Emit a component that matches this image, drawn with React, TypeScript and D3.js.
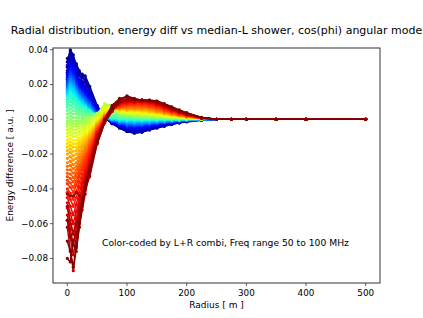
import React from 'react';
import * as d3 from 'd3';

// radius of each sample point [m]
const radii = [0, 5, 10, 15, 20, 25, 30, 37.5, 50, 62.5, 75, 87.5, 100, 112.5, 125, 137.5, 150, 162.5, 175, 187.5, 200, 225, 250, 275, 300, 350, 400, 500];

// colour level (0 = dark blue ... 1 = dark red) of every curve, drawn in this order
const colorLevels = [
  0, 0.015, 0.03, 0.045, 0.06, 0.075, 0.09, 0.11, 0.13, 0.15, 0.17, 0.19, 0.21, 0.23, 0.25, 0.27,
  0.29, 0.31, 0.33, 0.35, 0.37, 0.39, 0.41, 0.43, 0.45, 0.47, 0.49, 0.51, 0.53, 0.55, 0.57, 0.59,
  0.61, 0.63, 0.65, 0.67, 0.69, 0.71, 0.73, 0.75, 0.77, 0.785, 0.8, 0.815, 0.83, 0.845, 0.86, 0.875,
  0.89, 0.9, 0.91, 0.92, 0.93, 0.94, 0.95, 0.96, 0.97, 0.98, 0.99, 1,
];

// energy difference of each curve, in units of 1e-3 a.u.
const curveValues: number[][] = [
  [30, 40, 37, 31, 27, 26, 25, 19, 8, 1.5, -2.5, -5, -7, -8, -7.5, -6, -5, -4, -3, -2, -1.5, -0.5, 0, 0, 0, 0, 0, 0],
  [35, 38, 35, 32, 28, 25, 23, 18, 7.5, 1, -2, -5, -7, -7.8, -7.2, -6.2, -5, -3.8, -2.8, -2, -1.2, -0.4, 0, 0, 0, 0, 0, 0],
  [33, 39, 34, 29, 25, 24, 22, 17, 7, 1, -2.5, -4.5, -6.5, -7.5, -7, -6, -4.5, -3.5, -2.5, -2, -1, -0.5, 0, 0, 0, 0, 0, 0],
  [31, 37, 33, 28, 26, 22, 21, 16, 6.5, 0.8, -2.2, -4.2, -6, -7, -6.5, -5.5, -4.2, -3.2, -2.6, -1.8, -1, -0.4, 0, 0, 0, 0, 0, 0],
  [28, 36, 32, 27, 23, 21, 19, 15, 6, 0.5, -2, -4, -5.5, -6.5, -6, -5, -4, -3, -2.5, -1.5, -1, -0.3, 0, 0, 0, 0, 0, 0],
  [27, 34, 31, 26, 22, 20, 18, 14, 5.5, 0.5, -1.8, -3.8, -5.2, -6, -5.5, -4.8, -3.8, -2.8, -2.2, -1.5, -1, -0.3, 0, 0, 0, 0, 0, 0],
  [26, 33, 30, 25, 21, 19, 17, 13, 5, 0.5, -1.5, -3.5, -5, -5.5, -5, -4.5, -3.5, -2.5, -2, -1.5, -1, -0.3, 0, 0, 0, 0, 0, 0],
  [25, 31, 29, 24, 20, 18, 16, 12, 4.5, 0.5, -1.2, -3.2, -4.5, -5, -4.6, -4.1, -3.2, -2.4, -1.9, -1.3, -0.9, -0.2, 0, 0, 0, 0, 0, 0],
  [24, 30, 27, 23, 19, 17, 15, 11, 4, 0.5, -1, -3, -4, -4.5, -4.2, -3.8, -3, -2.2, -1.8, -1.2, -0.8, -0.2, 0, 0, 0, 0, 0, 0],
  [23, 29, 26, 22, 18, 16, 14, 10.5, 3.8, 0.5, -1, -2.8, -3.8, -4.2, -3.8, -3.4, -2.8, -2.1, -1.6, -1.1, -0.7, -0.2, 0, 0, 0, 0, 0, 0],
  [22, 27, 25, 21, 17, 15, 13, 10, 3.5, 0.5, -1, -2.5, -3.5, -3.8, -3.5, -3, -2.5, -2, -1.5, -1, -0.7, -0.2, 0, 0, 0, 0, 0, 0],
  [21, 26, 24, 20, 16.5, 14.5, 12.5, 9.5, 3.2, 0.6, -0.8, -2.2, -3.2, -3.5, -3.2, -2.8, -2.3, -1.8, -1.4, -1, -0.6, -0.2, 0, 0, 0, 0, 0, 0],
  [20, 25, 23, 19, 16, 14, 12, 9, 3, 0.8, -0.5, -2, -3, -3.2, -3, -2.6, -2.1, -1.7, -1.3, -0.9, -0.6, -0.2, 0, 0, 0, 0, 0, 0],
  [19, 24, 22, 18, 15, 13, 11, 8, 2.8, 0.8, -0.5, -1.8, -2.6, -2.8, -2.7, -2.3, -1.9, -1.5, -1.1, -0.8, -0.5, -0.1, 0, 0, 0, 0, 0, 0],
  [18, 23, 21, 17, 14, 12, 10, 7.5, 2.5, 0.8, -0.5, -1.5, -2.3, -2.5, -2.4, -2.1, -1.7, -1.4, -1, -0.8, -0.5, -0.1, 0, 0, 0, 0, 0, 0],
  [17.5, 22, 20, 16.5, 13.5, 11.5, 9.5, 7, 2.2, 0.8, -0.2, -1.2, -2, -2.2, -2, -1.8, -1.5, -1.2, -0.9, -0.7, -0.4, -0.1, 0, 0, 0, 0, 0, 0],
  [17, 21, 19, 16, 13, 11, 9, 6.5, 2, 0.8, 0, -1, -1.6, -1.8, -1.7, -1.5, -1.2, -1, -0.8, -0.6, -0.4, -0.1, 0, 0, 0, 0, 0, 0],
  [16, 20, 18, 15, 12, 10.5, 8.5, 6, 1.9, 0.9, 0.1, -0.8, -1.3, -1.5, -1.4, -1.2, -1, -0.8, -0.6, -0.5, -0.3, -0.1, 0, 0, 0, 0, 0, 0],
  [15, 19, 17, 14, 11, 10, 8, 5.5, 1.8, 1, 0.2, -0.6, -1, -1.2, -1.1, -1, -0.8, -0.7, -0.5, -0.4, -0.3, -0.1, 0, 0, 0, 0, 0, 0],
  [14, 17.5, 15.5, 13, 10.5, 9, 7.5, 5.2, 1.9, 1.1, 0.4, -0.3, -0.7, -0.8, -0.8, -0.7, -0.6, -0.5, -0.4, -0.3, -0.2, 0, 0, 0, 0, 0, 0, 0],
  [13, 16, 14, 12, 10, 8, 7, 5, 2, 1.2, 0.6, -0.1, -0.4, -0.5, -0.5, -0.4, -0.4, -0.3, -0.3, -0.2, -0.1, 0, 0, 0, 0, 0, 0, 0],
  [11.5, 14.5, 12.5, 10.5, 9, 7.5, 6.5, 4.8, 2.2, 1.5, 0.9, 0.2, -0.1, -0.2, -0.2, -0.2, -0.2, -0.1, -0.1, -0.1, 0, 0, 0, 0, 0, 0, 0, 0],
  [10, 13, 11, 9, 8, 7, 6, 4.5, 2.5, 1.8, 1.2, 0.5, 0.2, 0.1, 0, 0, 0, 0, 0, 0, 0, 0, 0, 0, 0, 0, 0, 0],
  [8.5, 10.5, 9, 7.5, 6.5, 5.8, 5, 4, 2.8, 2.4, 1.6, 0.8, 0.5, 0.3, 0.2, 0.2, 0.1, 0.1, 0.1, 0, 0, 0, 0, 0, 0, 0, 0, 0],
  [7, 8, 7, 6, 5, 4.5, 4, 3.5, 3, 3, 2, 1.2, 0.8, 0.6, 0.5, 0.4, 0.3, 0.3, 0.2, 0.1, 0.1, 0, 0, 0, 0, 0, 0, 0],
  [5, 6, 5, 4.5, 3.8, 3.2, 3, 3, 3.2, 4, 2.8, 1.6, 1.1, 0.9, 0.8, 0.6, 0.5, 0.4, 0.3, 0.2, 0.1, 0, 0, 0, 0, 0, 0, 0],
  [3, 4, 3, 3, 2.5, 2, 2, 2.5, 3.5, 5, 3.5, 2, 1.5, 1.2, 1, 0.9, 0.7, 0.6, 0.5, 0.3, 0.2, 0.1, 0, 0, 0, 0, 0, 0],
  [1, 2, 1, 1, 0.8, 0.8, 1, 1.8, 3.5, 6, 4.5, 2.5, 1.8, 1.6, 1.4, 1.2, 1, 0.8, 0.6, 0.4, 0.3, 0.1, 0, 0, 0, 0, 0, 0],
  [-1, 0, -1, -1, -1, -0.5, 0, 1, 3.5, 7, 5.5, 3, 2.2, 2, 1.8, 1.5, 1.2, 1, 0.8, 0.6, 0.4, 0.1, 0, 0, 0, 0, 0, 0],
  [-2.5, -1.5, -2.5, -2.5, -2.2, -1.8, -1, 0.5, 3.2, 8, 6.8, 3.5, 2.6, 2.4, 2.1, 1.8, 1.5, 1.2, 1, 0.7, 0.5, 0.1, 0, 0, 0, 0, 0, 0],
  [-4, -3, -4, -4, -3.5, -3, -2, 0, 3, 9, 8, 4, 3, 2.8, 2.5, 2.2, 1.8, 1.5, 1.2, 0.9, 0.6, 0.2, 0, 0, 0, 0, 0, 0],
  [-6, -5, -6, -6, -5, -4.5, -3.5, -1.5, 2, 8, 7.5, 4.2, 3.4, 3.1, 2.9, 2.6, 2.1, 1.7, 1.4, 1, 0.7, 0.2, 0, 0, 0, 0, 0, 0],
  [-8, -7, -8, -8, -7, -6, -5, -3, 1, 7, 7, 4.5, 3.8, 3.5, 3.3, 3, 2.5, 2, 1.6, 1.2, 0.8, 0.2, 0, 0, 0, 0, 0, 0],
  [-10, -9, -10, -10, -9, -8, -6.5, -4.5, 0, 6, 7, 4.8, 4.1, 3.9, 3.6, 3.3, 2.7, 2.2, 1.8, 1.3, 0.9, 0.2, 0, 0, 0, 0, 0, 0],
  [-12, -11, -12, -12, -11, -10, -8, -6, -1, 5, 6.5, 5, 4.5, 4.3, 4, 3.6, 3, 2.5, 2, 1.5, 1, 0.3, 0, 0, 0, 0, 0, 0],
  [-14, -13, -14, -14, -12.5, -11.5, -9.5, -7, -1.5, 4.2, 6.2, 5.2, 4.8, 4.6, 4.4, 4, 3.3, 2.7, 2.2, 1.6, 1.1, 0.3, 0, 0, 0, 0, 0, 0],
  [-16, -15, -16, -16, -14, -13, -11, -8, -2, 3.5, 6, 5.5, 5, 5, 4.8, 4.3, 3.7, 3, 2.4, 1.8, 1.2, 0.3, 0, 0, 0, 0, 0, 0],
  [-18, -17, -18.5, -18, -16, -14.5, -12.5, -9, -2.5, 3, 6, 5.8, 5.4, 5.4, 5.1, 4.6, 4, 3.2, 2.6, 1.9, 1.3, 0.3, 0, 0, 0, 0, 0, 0],
  [-20, -19, -21, -20, -18, -16, -14, -10, -3, 2.5, 6, 6, 5.8, 5.8, 5.5, 5, 4.3, 3.5, 2.8, 2.1, 1.4, 0.4, 0, 0, 0, 0, 0, 0],
  [-22.5, -21.5, -23.5, -22.5, -20, -18, -15.5, -11, -3.5, 2.2, 6, 6.2, 6.2, 6.2, 6, 5.5, 4.6, 3.8, 3, 2.2, 1.5, 0.4, 0, 0, 0, 0, 0, 0],
  [-25, -24, -26, -25, -22, -20, -17, -12, -4, 2, 6, 6.5, 6.5, 6.5, 6.5, 6, 5, 4, 3.2, 2.4, 1.6, 0.5, 0, 0, 0, 0, 0, 0],
  [-27, -26.5, -28.5, -27, -24, -21.5, -18.5, -13, -4.5, 1.8, 6, 6.8, 6.8, 6.8, 6.8, 6.4, 5.4, 4.3, 3.4, 2.5, 1.7, 0.5, 0, 0, 0, 0, 0, 0],
  [-29, -29, -31, -29, -26, -23, -20, -14, -5, 1.5, 6, 7, 7.2, 7.2, 7.2, 6.8, 5.8, 4.6, 3.6, 2.7, 1.8, 0.5, 0, 0, 0, 0, 0, 0],
  [-31, -31.5, -33.5, -31, -27.5, -24.5, -21, -15, -5.5, 1.2, 6, 7.2, 7.6, 7.6, 7.6, 7.2, 6.2, 4.9, 3.8, 2.8, 1.9, 0.5, 0, 0, 0, 0, 0, 0],
  [-33, -34, -36, -33, -29, -26, -22, -16, -6, 1, 6, 7.5, 8, 8, 8, 7.5, 6.5, 5.2, 4, 3, 2, 0.6, 0, 0, 0, 0, 0, 0],
  [-35, -36.5, -39, -35.5, -31, -27.5, -23.5, -17, -6.5, 0.8, 6, 7.8, 8.2, 8.4, 8.4, 7.9, 6.8, 5.5, 4.2, 3.1, 2.1, 0.6, 0, 0, 0, 0, 0, 0],
  [-37, -39, -42, -38, -33, -29, -25, -18, -7, 0.5, 6, 8, 8.5, 8.8, 8.8, 8.3, 7.2, 5.8, 4.5, 3.3, 2.2, 0.6, 0, 0, 0, 0, 0, 0],
  [-40, -42.5, -46, -41.5, -36, -31.5, -27, -19.5, -7.5, 0.2, 6, 8.2, 8.8, 9.1, 9.1, 8.6, 7.6, 6.1, 4.7, 3.5, 2.3, 0.6, 0, 0, 0, 0, 0, 0],
  [-42, -46, -50, -45, -39, -34, -29, -21, -8, 0, 6, 8.5, 9.2, 9.5, 9.5, 9, 8, 6.5, 5, 3.7, 2.5, 0.7, 0, 0, 0, 0, 0, 0],
  [-45, -50, -55, -49, -42.5, -36.5, -31, -22.5, -8.5, -0.2, 5.8, 8.8, 9.6, 9.8, 9.8, 9.3, 8.3, 6.8, 5.2, 3.8, 2.6, 0.7, 0, 0, 0, 0, 0, 0],
  [-48, -54, -60, -53, -46, -39, -33, -24, -9, -0.5, 5.5, 9, 10, 10, 10, 9.7, 8.7, 7, 5.5, 4, 2.8, 0.8, 0, 0, 0, 0, 0, 0],
  [-51, -58, -66, -57, -49, -42, -35, -25.5, -9.5, -0.8, 5.2, 9.2, 10.2, 10.2, 10.2, 10, 9, 7.2, 5.6, 4.1, 2.9, 0.8, 0, 0, 0, 0, 0, 0],
  [-55, -63, -72, -62, -53, -45, -38, -27, -10, -1, 5, 9.5, 10.5, 10.5, 10.5, 10.2, 9.2, 7.5, 5.8, 4.3, 3, 0.8, 0, 0, 0, 0, 0, 0],
  [-58, -68, -78, -68, -57, -48, -40, -28.5, -11, -1.5, 4.8, 9.8, 10.8, 10.8, 10.8, 10.5, 9.5, 7.8, 6, 4.4, 3.1, 0.9, 0, 0, 0, 0, 0, 0],
  [-62, -75, -87, -74, -62, -52, -43, -30, -12, -2, 4.5, 10, 11, 11, 11, 10.8, 9.8, 8, 6.2, 4.6, 3.2, 0.9, 0, 0, 0, 0, 0, 0],
  [-50, -60, -66, -60, -52, -46, -40, -30, -13, -2, 5.2, 10, 11, 11, 11, 10.6, 9.6, 7.9, 6.1, 4.5, 3.1, 0.9, 0, 0, 0, 0, 0, 0],
  [-43, -44, -44, -42, -44, -45, -40, -33, -14, -2, 6, 10, 11, 11, 11, 10.5, 9.5, 7.8, 6, 4.5, 3.1, 0.9, 0, 0, 0, 0, 0, 0],
  [-58, -67, -72, -76, -62, -50, -40, -30, -14, -2, 6, 11, 12, 11.5, 11, 10.8, 10, 8.2, 6.5, 4.8, 3.3, 1, 0, 0, 0, 0, 0, 0],
  [-80, -82, -70, -66, -58, -47, -36, -27, -12, 0, 8, 12, 13, 11.5, 11, 11, 10.5, 8.8, 7, 5.2, 3.6, 1, 0, 0, 0, 0, 0, 0],
  [-70, -76, -85, -73, -60, -48, -40, -28, -12, -1, 7, 11, 13.5, 12, 11, 11, 10.5, 9, 7.2, 5.4, 3.8, 1.1, 0, 0, 0, 0, 0, 0],
];
const VALUE_UNIT = 1e-3;

const xTicks = [0, 100, 200, 300, 400, 500];
const yTicks = [-0.08, -0.06, -0.04, -0.02, 0, 0.02, 0.04];

const titleText = 'Radial distribution, energy diff vs median-L shower, cos(phi) angular mode';
const noteText = 'Color-coded by L+R combi, Freq range 50 to 100 MHz';

// matplotlib 'jet' colormap channels
const jetR = d3.scaleLinear().domain([0, 0.35, 0.66, 0.89, 1]).range([0, 0, 1, 1, 0.5]).clamp(true);
const jetG = d3.scaleLinear().domain([0, 0.125, 0.375, 0.64, 0.91, 1]).range([0, 0, 1, 1, 0, 0]).clamp(true);
const jetB = d3.scaleLinear().domain([0, 0.11, 0.34, 0.65, 1]).range([0.5, 1, 1, 0, 0]).clamp(true);
const jet = (t: number) => d3.rgb(jetR(t) * 255, jetG(t) * 255, jetB(t) * 255).formatHex();

const W = 423, H = 318;
const left = 53, right = 380, top = 48, bottom = 283;
const font = 'DejaVu Sans, sans-serif';

export default function App() {
  const x = d3.scaleLinear().domain([-24, 524]).range([left, right]);
  const y = d3.scaleLinear().domain([-0.0941, 0.041]).range([bottom, top]);
  const line = d3.line<[number, number]>().x(d => x(d[0])).y(d => y(d[1]));
  const fmtY = (v: number) => d3.format('.2f')(v).replace('-', '\u2212');

  return (
    <div style={{ position: 'absolute', left: 0, top: 0 }}>
      <svg width={W} height={H} style={{ display: 'block', background: '#fff' }}>
        <defs>
          <clipPath id='plot-area'><rect x={left} y={top} width={right - left} height={bottom - top} /></clipPath>
        </defs>
        <text x={(left + right) / 2} y={34} textAnchor='middle' fontFamily={font} fontSize={11}>{titleText}</text>
        <g clipPath='url(#plot-area)'>
          {curveValues.map((vals, i) => {
            const pts: [number, number][] = vals.map((v, j) => [radii[j], v * VALUE_UNIT]);
            const col = jet(colorLevels[i]);
            return (
              <g key={`curve-${i}`}>
                <path d={line(pts) || ''} fill='none' stroke={col} strokeWidth={1.5} strokeLinejoin='round' />
                {pts.map((p, j) => <circle key={j} cx={x(p[0])} cy={y(p[1])} r={1.6} fill={col} />)}
              </g>
            );
          })}
        </g>
        <rect x={left} y={top} width={right - left} height={bottom - top} fill='none' stroke='#333' strokeWidth={1} />
        {xTicks.map(t => (
          <g key={`xt-${t}`} transform={`translate(${x(t)},${bottom})`}>
            <line y2={3} stroke='#333' strokeWidth={0.8} />
            <text y={13} textAnchor='middle' fontFamily={font} fontSize={8.8}>{t}</text>
          </g>
        ))}
        {yTicks.map(t => (
          <g key={`yt-${t}`} transform={`translate(${left},${y(t)})`}>
            <line x2={-3} stroke='#333' strokeWidth={0.8} />
            <text x={-5} dy='0.33em' textAnchor='end' fontFamily={font} fontSize={8.8}>{fmtY(t)}</text>
          </g>
        ))}
        <text x={(left + right) / 2} y={308} textAnchor='middle' fontFamily={font} fontSize={9}>Radius [ m ]</text>
        <text transform={`translate(13,${(top + bottom) / 2}) rotate(-90)`} textAnchor='middle' fontFamily={font} fontSize={9}>Energy difference [ a.u. ]</text>
        <text x={102} y={246} fontFamily={font} fontSize={9.2}>{noteText}</text>
      </svg>
    </div>
  );
}
